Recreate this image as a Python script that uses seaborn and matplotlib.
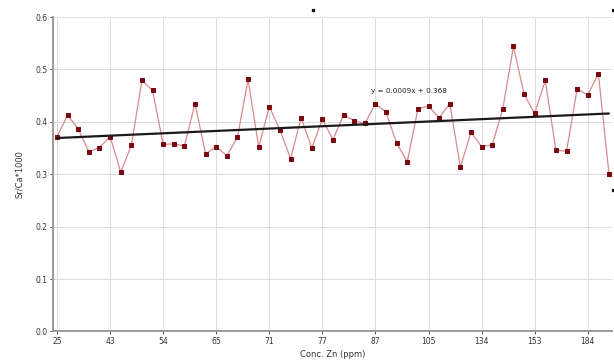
import numpy as np
import pandas as pd
import matplotlib.pyplot as plt
import seaborn as sns

# values
zn_labels = ["25", "43", "54", "65", "71", "77", "87", "105", "134", "153", "184"]
sr_ca = [0.372, 0.413, 0.386, 0.343, 0.351, 0.372, 0.304, 0.355, 0.479, 0.460,
         0.357, 0.358, 0.354, 0.435, 0.339, 0.353, 0.335, 0.371, 0.481, 0.352,
         0.429, 0.385, 0.330, 0.408, 0.350, 0.405, 0.366, 0.414, 0.402, 0.397,
         0.435, 0.418, 0.359, 0.324, 0.425, 0.430, 0.408, 0.435, 0.314, 0.380,
         0.353, 0.356, 0.425, 0.544, 0.453, 0.416, 0.479, 0.346, 0.344, 0.463,
         0.451, 0.492, 0.301]
label_step = 5

data = pd.DataFrame({"idx": np.arange(len(sr_ca)), "ratio": sr_ca})

sns.set_style("whitegrid")
fig = plt.figure(figsize=(6.14, 3.63), dpi=100)
ax = fig.add_axes([0.0863, 0.0868, 0.9107, 0.8662])

sns.lineplot(data=data, x="idx", y="ratio", ax=ax, color="#d98a8c", linewidth=0.9,
             marker="s", markersize=3.0, markerfacecolor="#7a0a10",
             markeredgecolor="#7a0a10")
sns.regplot(data=data, x="idx", y="ratio", ax=ax, scatter=False, ci=None,
            line_kws={"color": "#1a1a1a", "linewidth": 1.6})

ax.set_xlim(-0.38, 52.3)
ax.set_ylim(0, 0.6)
ax.set_xticks(np.arange(0, len(zn_labels) * label_step, label_step))
ax.set_xticklabels(zn_labels)
ax.set_yticks(np.arange(0, 0.61, 0.1))
ax.set_yticklabels([f"{v:.1f}" for v in np.arange(0, 0.61, 0.1)])
ax.tick_params(labelsize=5.5, colors="#333333", length=2, width=0.6, pad=2)
ax.tick_params(axis="x", bottom=True)
ax.tick_params(axis="y", left=True)

ax.grid(True, color="#dcdcdc", linewidth=0.7)
for side in ["top", "right"]:
    ax.spines[side].set_visible(False)
for side in ["left", "bottom"]:
    ax.spines[side].set_color("#9a9a9a")
    ax.spines[side].set_linewidth(1.4)

ax.set_xlabel("Conc. Zn (ppm)", fontsize=6, color="#333333", labelpad=3)
ax.set_ylabel("Sr/Ca*1000", fontsize=6, color="#333333", labelpad=8)
ax.text(33.2, 0.458, "y = 0.0009x + 0.368", fontsize=5.2, color="#222222",
        ha="center", va="center")

# little selection handles seen on the edges of the screenshot
for hx, hy in [(0.5095, 0.972), (0.998, 0.972), (0.998, 0.477)]:
    fig.add_artist(plt.Line2D([hx], [hy], marker="s", markersize=1.4,
                              color="#111111", transform=fig.transFigure))

fig.savefig("out.png", dpi=100)
